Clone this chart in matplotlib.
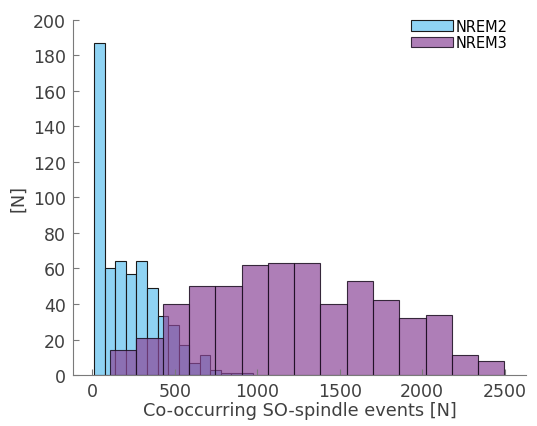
import matplotlib
matplotlib.use('Agg')
import matplotlib.pyplot as plt
import numpy as np

plt.rcParams['font.family'] = ['DejaVu Sans']

# bin edges and counts
nrem2_edges = [11, 75, 139, 203, 267, 331, 395, 459, 523, 587, 651, 715, 779, 843, 907, 971]
nrem2_counts = [187, 60, 64, 57, 64, 49, 33, 28, 17, 7, 11, 3, 1, 1, 1]

nrem3_edges = [108, 267, 427, 586, 746, 905, 1064, 1224, 1383, 1543, 1702, 1861, 2021, 2180, 2340, 2499]
nrem3_counts = [14, 21, 40, 50, 50, 62, 63, 63, 40, 53, 42, 32, 34, 11, 8]

labels = ['NREM2', 'NREM3']
x_ticks = [0, 500, 1000, 1500, 2000, 2500]
y_ticks = [0, 20, 40, 60, 80, 100, 120, 140, 160, 180, 200]

fig = plt.figure(figsize=(5.37, 4.27), dpi=100)
ax = fig.add_axes([0.136, 0.1194, 0.8435, 0.8316])

e2 = np.array(nrem2_edges)
e3 = np.array(nrem3_edges)
ax.bar(e2[:-1], nrem2_counts, width=np.diff(e2), align='edge',
       color='#8fd3f3', edgecolor='#1a1a1a', linewidth=0.8, label=labels[0])
ax.bar(e3[:-1], nrem3_counts, width=np.diff(e3), align='edge',
       color=(0.55, 0.28, 0.60, 0.70), edgecolor=(0.1, 0.05, 0.12, 0.85),
       linewidth=0.8, label=labels[1])

ax.set_xlim(-118, 2630)
ax.set_ylim(0, 200)
ax.set_xticks(x_ticks)
ax.set_yticks(y_ticks)

for s in ['top', 'right']:
    ax.spines[s].set_visible(False)
for s in ['left', 'bottom']:
    ax.spines[s].set_color('#7a7a7a')
    ax.spines[s].set_linewidth(0.8)
ax.tick_params(direction='in', length=4, width=0.8, color='#7a7a7a',
               labelsize=12.5, labelcolor='#404040', pad=5)

ax.set_xlabel('Co-occurring SO-spindle events [N]', fontsize=12.8, color='#404040', labelpad=1)
ax.set_ylabel('[N]', fontsize=12.8, color='#404040', labelpad=4)

ax.legend(loc='upper left', bbox_to_anchor=(0.746, 0.978), bbox_transform=fig.transFigure,
          frameon=False, fontsize=10.5, handlelength=2.9, handleheight=0.7,
          handletextpad=0.15, labelspacing=0.1, borderpad=0.2)

fig.savefig('out.png', dpi=100)
